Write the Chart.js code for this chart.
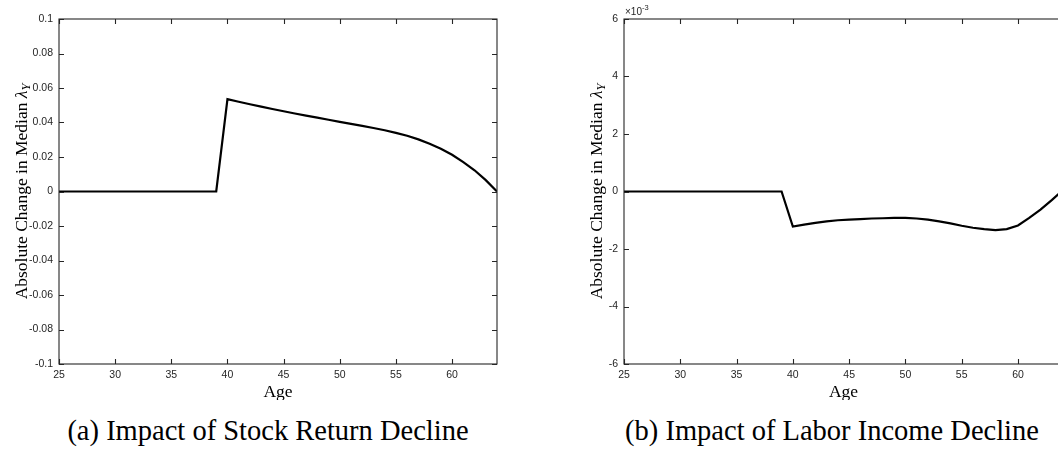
<!DOCTYPE html>
<html>
<head>
<meta charset="utf-8">
<script src="https://cdn.jsdelivr.net/npm/chart.js@4"></script>
<style>
    html, body { margin: 0; padding: 0; background: #fff; }
    body { width: 1058px; height: 450px; overflow: hidden; position: relative; }
    .panel { position: absolute; top: 0; height: 400px; }
    .caption {
        position: absolute; top: 415px; width: 600px; text-align: center;
        font-family: 'Liberation Serif', 'Times New Roman', serif; font-size: 28.5px; color: #000;
        white-space: nowrap;
    }
</style>
</head>
<body>
<div class="panel" style="left:0; width:530px;"><canvas id="stockChart"></canvas></div>
<div class="panel" style="left:530px; width:560px;"><canvas id="laborChart"></canvas></div>
<div class="caption" style="left:-32px;">(a) Impact of Stock Return Decline</div>
<div class="caption" style="left:532px;">(b) Impact of Labor Income Decline</div>
<script>
const ages = [25, 26, 27, 28, 29, 30, 31, 32, 33, 34, 35, 36, 37, 38, 39,
    40, 41, 42, 43, 44, 45, 46, 47, 48, 49, 50, 51, 52, 53, 54,
    55, 56, 57, 58, 59, 60, 61, 62, 63, 64];

// (a) stock return decline
const stockImpact = [0, 0, 0, 0, 0, 0, 0, 0, 0, 0, 0, 0, 0, 0, 0,
    0.0535, 0.0520, 0.0506, 0.0492, 0.0478, 0.0465, 0.0452, 0.0440, 0.0428, 0.0416,
    0.0404, 0.0392, 0.0380, 0.0368, 0.0355, 0.0340, 0.0323, 0.0302, 0.0277, 0.0248,
    0.0213, 0.0170, 0.0123, 0.0066, 0.0000];

// (b) labor income decline
const laborImpact = [0, 0, 0, 0, 0, 0, 0, 0, 0, 0, 0, 0, 0, 0, 0,
    -0.00122, -0.00115, -0.00109, -0.00104, -0.00100, -0.00098, -0.00096, -0.00094, -0.00093, -0.00092,
    -0.00092, -0.00094, -0.00098, -0.00104, -0.00111, -0.00119, -0.00126, -0.00131, -0.00134, -0.00131,
    -0.00118, -0.00092, -0.00063, -0.00030, 0.00005];

const ageTicks = [25, 30, 35, 40, 45, 50, 55, 60];
const stockTicks = [-0.1, -0.08, -0.06, -0.04, -0.02, 0, 0.02, 0.04, 0.06, 0.08, 0.1];
const stockTickLabels = ['-0.1', '-0.08', '-0.06', '-0.04', '-0.02', '0', '0.02', '0.04', '0.06', '0.08', '0.1'];
const laborTicks = [-0.006, -0.004, -0.002, 0, 0.002, 0.004, 0.006];
const laborTickLabels = ['-6', '-4', '-2', '0', '2', '4', '6'];

const xTitle = 'Age';
const yTitle = 'Absolute Change in Median ';

(function () {
    const AXIS_COLOR = '#262626';
    const TICK_FONT = { family: "'Liberation Sans', Arial, sans-serif", size: 10.5 };
    const SERIF = "'Liberation Serif', 'Times New Roman', serif";

    // matlab style: box round the plot, short ticks pointing inwards on all sides
    const matlabBox = {
        id: 'matlabBox',
        afterDraw(chart, args, opts) {
            const { ctx, chartArea: a, scales } = chart;
            const len = 5;
            ctx.save();
            ctx.strokeStyle = AXIS_COLOR;
            ctx.lineWidth = 1.1;
            ctx.strokeRect(a.left, a.top, a.right - a.left, a.bottom - a.top);
            ctx.beginPath();
            scales.x.ticks.forEach((t) => {
                const px = Math.round(scales.x.getPixelForValue(t.value)) + 0.5;
                ctx.moveTo(px, a.bottom); ctx.lineTo(px, a.bottom - len);
                ctx.moveTo(px, a.top); ctx.lineTo(px, a.top + len);
            });
            scales.y.ticks.forEach((t) => {
                const py = Math.round(scales.y.getPixelForValue(t.value)) + 0.5;
                ctx.moveTo(a.left, py); ctx.lineTo(a.left + len, py);
                ctx.moveTo(a.right, py); ctx.lineTo(a.right - len, py);
            });
            ctx.stroke();

            // axis titles
            ctx.fillStyle = '#000';
            ctx.font = '17.5px ' + SERIF;
            ctx.textAlign = 'center';
            ctx.textBaseline = 'middle';
            ctx.fillText(xTitle, (a.left + a.right) / 2, 392);

            ctx.translate(a.left - opts.titleOffset, (a.top + a.bottom) / 2);
            ctx.rotate(-Math.PI / 2);
            ctx.font = 'italic 17.5px ' + SERIF;
            const lw = ctx.measureText('λ').width;
            ctx.font = 'italic 12.5px ' + SERIF;
            const sw = ctx.measureText('Y').width;
            ctx.font = '17.5px ' + SERIF;
            const mw = ctx.measureText(yTitle).width;
            const x0 = -(mw + lw + sw) / 2;
            ctx.textAlign = 'left';
            ctx.textBaseline = 'alphabetic';
            ctx.fillText(yTitle, x0, 6);
            ctx.font = 'italic 17.5px ' + SERIF;
            ctx.fillText('λ', x0 + mw, 6);
            ctx.font = 'italic 12.5px ' + SERIF;
            ctx.fillText('Y', x0 + mw + lw, 9);
            ctx.restore();

            if (opts.exponent) {
                ctx.save();
                ctx.fillStyle = AXIS_COLOR;
                ctx.textBaseline = 'alphabetic';
                ctx.font = '10px ' + TICK_FONT.family;
                ctx.fillText('×10', a.left + 1, a.top - 4);
                const w = ctx.measureText('×10').width;
                ctx.font = '7.5px ' + TICK_FONT.family;
                ctx.fillText(opts.exponent, a.left + 1 + w, a.top - 9);
                ctx.restore();
            }
        },
    };

    function createChart(canvasId, values, yTicks, yLabels, yMin, yMax, yWidth, padRight, titleOffset, exponent) {
        const canvas = document.getElementById(canvasId);
        if (!canvas) return;
        const ctx = canvas.getContext('2d');

        return new Chart(ctx, {
            type: 'line',
            data: {
                datasets: [
                    {
                        data: ages.map((age, i) => ({ x: age, y: values[i] })),
                        borderColor: '#000',
                        borderWidth: 2.2,
                        pointRadius: 0,
                        tension: 0,
                        fill: false,
                    },
                ],
            },
            options: {
                responsive: true,
                maintainAspectRatio: false,
                animation: false,
                layout: { padding: { left: 0, top: 19, right: padRight, bottom: 0 } },
                plugins: {
                    legend: { display: false },
                    tooltip: { enabled: false },
                    matlabBox: { titleOffset, exponent },
                },
                scales: {
                    x: {
                        type: 'linear',
                        min: 25,
                        max: 64,
                        afterBuildTicks: (scale) => { scale.ticks = ageTicks.map((v) => ({ value: v })); },
                        afterFit: (scale) => { scale.height = 36; },
                        grid: { display: false, drawTicks: false },
                        border: { display: false },
                        ticks: { color: AXIS_COLOR, font: TICK_FONT, padding: 5, maxRotation: 0, autoSkip: false },
                    },
                    y: {
                        type: 'linear',
                        min: yMin,
                        max: yMax,
                        afterBuildTicks: (scale) => { scale.ticks = yTicks.map((v) => ({ value: v })); },
                        afterFit: (scale) => { scale.width = yWidth; },
                        grid: { display: false, drawTicks: false },
                        border: { display: false },
                        ticks: {
                            color: AXIS_COLOR,
                            font: TICK_FONT,
                            padding: 6,
                            autoSkip: false,
                            callback: function (value, index) {
                                return yLabels[index];
                            },
                        },
                    },
                },
            },
            plugins: [matlabBox],
        });
    }

    function init() {
        createChart('stockChart', stockImpact, stockTicks, stockTickLabels, -0.1, 0.1, 59, 33, 38, null);
        createChart('laborChart', laborImpact, laborTicks, laborTickLabels, -0.006, 0.006, 94, 27, 28, '-3');
    }

    if (document.readyState === 'loading') {
        document.addEventListener('DOMContentLoaded', init);
    } else {
        init();
    }
})();
</script>
</body>
</html>
